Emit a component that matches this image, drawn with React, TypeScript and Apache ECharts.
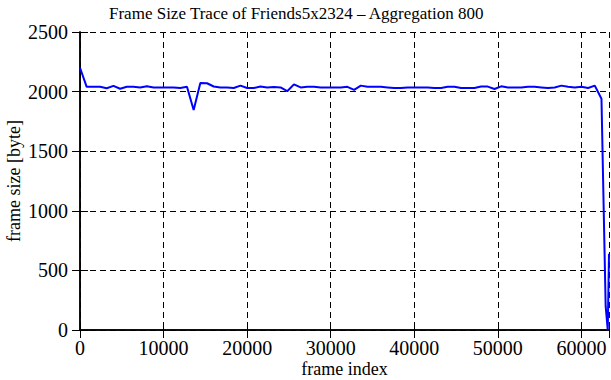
import React, { useEffect, useRef } from "react";
import * as echarts from "echarts";

const TITLE = "Frame Size Trace of Friends5x2324 – Aggregation 800";
const X_NAME = "frame index";
const Y_NAME = "frame size [byte]";

// frame index (aggregation step 800) and aggregated frame size in bytes
const frameIndex: number[] = [
  0, 800, 1600, 2400, 3200, 4000, 4800, 5600, 6400, 7200,
  8000, 8800, 9600, 10400, 11200, 12000, 12800, 13600, 14400, 15200,
  16000, 16800, 17600, 18400, 19200, 20000, 20800, 21600, 22400, 23200,
  24000, 24800, 25600, 26400, 27200, 28000, 28800, 29600, 30400, 31200,
  32000, 32800, 33600, 34400, 35200, 36000, 36800, 37600, 38400, 39200,
  40000, 40800, 41600, 42400, 43200, 44000, 44800, 45600, 46400, 47200,
  48000, 48800, 49600, 50400, 51200, 52000, 52800, 53600, 54400, 55200,
  56000, 56800, 57600, 58400, 59200, 60000, 60800, 61600, 62400, 62900,
  63150, 63300,
];
const frameSize: number[] = [
  2200, 2040, 2040, 2040, 2028, 2048, 2024, 2040, 2040, 2035,
  2045, 2035, 2035, 2035, 2035, 2030, 2040, 1845, 2072, 2070,
  2043, 2035, 2035, 2030, 2050, 2030, 2030, 2042, 2035, 2038,
  2035, 2003, 2061, 2035, 2040, 2040, 2035, 2035, 2035, 2035,
  2040, 2015, 2050, 2040, 2040, 2040, 2035, 2030, 2030, 2035,
  2035, 2035, 2035, 2030, 2030, 2040, 2040, 2030, 2030, 2030,
  2042, 2042, 2022, 2044, 2035, 2035, 2035, 2040, 2040, 2035,
  2030, 2035, 2050, 2040, 2035, 2040, 2030, 2050, 1940, 200,
  0, 640,
];

const X_MIN = 0;
const X_MAX = 63300;
const X_STEP = 10000;
const Y_MIN = 0;
const Y_MAX = 2500;
const Y_STEP = 500;

const FONT = "'Liberation Serif', 'DejaVu Serif', serif";

export default function App() {
  const ref = useRef<HTMLDivElement>(null);
  useEffect(() => {
    if (!ref.current) return;
    const chart = echarts.init(ref.current, null, { renderer: "svg" });
    const data = frameIndex.map((x, i) => [x, frameSize[i]]);
    const xLabel = (v: number) => (v % X_STEP === 0 ? String(v) : "");
    const yLabel = (v: number) => String(v);
    const axisLineStyle = { color: "#000", width: 1.5 };
    chart.setOption({
      animation: false,
      backgroundColor: "#fff",
      title: {
        text: TITLE,
        left: 104,
        top: 0,
        textStyle: { fontFamily: FONT, fontSize: 17, fontWeight: "normal", color: "#000" },
      },
      grid: {
        left: 80,
        right: 2,
        top: 32,
        bottom: 50,
        containLabel: false,
        outerBoundsMode: "none",
      },
      xAxis: [
        {
          type: "value",
          min: X_MIN,
          max: X_MAX,
          interval: X_STEP,
          name: X_NAME,
          nameLocation: "middle",
          nameGap: 30,
          nameMoveOverlap: false,
          nameTextStyle: { fontFamily: FONT, fontSize: 18, lineHeight: 18, color: "#000" },
          axisLine: { show: true, lineStyle: axisLineStyle },
          axisTick: { show: true, inside: true, length: 8, lineStyle: { color: "#000" } },
          axisLabel: { fontFamily: FONT, fontSize: 20, color: "#000", margin: 8, formatter: xLabel },
          splitLine: { show: true, lineStyle: { color: "#000", type: [6, 4], width: 1 } },
        },
        {
          type: "value",
          position: "top",
          min: X_MIN,
          max: X_MAX,
          interval: X_STEP,
          axisLine: { show: true, lineStyle: axisLineStyle },
          axisTick: { show: true, inside: true, length: 8, lineStyle: { color: "#000" } },
          axisLabel: { show: false },
          splitLine: { show: false },
        },
      ],
      yAxis: [
        {
          type: "value",
          min: Y_MIN,
          max: Y_MAX,
          interval: Y_STEP,
          name: Y_NAME,
          nameLocation: "middle",
          nameGap: 57,
          nameMoveOverlap: false,
          nameTextStyle: { fontFamily: FONT, fontSize: 18, lineHeight: 18, color: "#000" },
          axisLine: { show: true, lineStyle: axisLineStyle },
          axisTick: { show: true, inside: true, length: 8, lineStyle: { color: "#000" } },
          axisLabel: { fontFamily: FONT, fontSize: 20, color: "#000", margin: 12, formatter: yLabel },
          splitLine: { show: true, lineStyle: { color: "#000", type: [6, 4], width: 1 } },
        },
        {
          type: "value",
          position: "right",
          min: Y_MIN,
          max: Y_MAX,
          interval: Y_STEP,
          axisLine: { show: true, lineStyle: axisLineStyle },
          axisTick: { show: true, inside: true, length: 8, lineStyle: { color: "#000" } },
          axisLabel: { show: false },
          splitLine: { show: false },
        },
      ],
      series: [
        {
          type: "line",
          data,
          showSymbol: false,
          symbol: "none",
          lineStyle: { color: "#0000ff", width: 2 },
          z: 3,
        },
      ],
    });
    return () => chart.dispose();
  }, []);
  return (
    <div
      ref={ref}
      style={{ position: "absolute", left: 0, top: 0, width: 611, height: 380 }}
    />
  );
}
